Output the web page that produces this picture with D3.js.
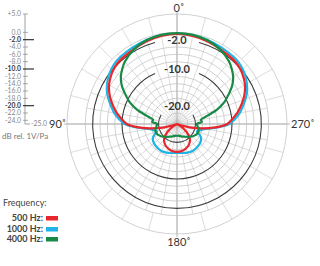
<!DOCTYPE html>
<html><head><meta charset="utf-8">
<script src="https://cdn.jsdelivr.net/npm/d3@7"></script>
<style>html,body{margin:0;padding:0;background:#fff;}svg{display:block;}</style>
</head><body>
<svg id="c" width="320" height="266"></svg>
<script>
// Angles (deg, counter-clockwise from 0° at top; pattern symmetric about 0°-180° axis)
const angles = [0,10,20,30,40,45,50,55,60,65,70,75,80,85,90,95,100,105,110,115,120,130,140,150,160,170,180];
const red500 = [-0.45,-0.6,-0.95,-1.4,-1.65,-1.85,-2.25,-2.85,-3.6,-4.6,-5.8,-7.1,-8.4,-9.9,-11.3,-14.5,-18,-21.5,-25,-25,-24,-21.5,-19.5,-18.5,-17.9,-17.5,-17.4];
const blue1000 = [-0.35,-0.4,-0.6,-0.85,-1.05,-1.25,-1.65,-2.2,-3.0,-3.9,-5.1,-6.4,-7.6,-9.1,-10.7,-14,-17.2,-18.4,-19.2,-18.3,-17.4,-16.8,-16.6,-16.5,-16.7,-17,-17.1];
const green4000 = [-0.2,-0.3,-0.7,-1.5,-2.85,-3.85,-5.0,-6.6,-8.7,-10.7,-13.3,-16.5,-18.4,-18.2,-19.6,-19.4,-19.2,-18.9,-18.8,-18.9,-19.1,-19.7,-20.4,-21,-21.4,-21.7,-21.8];
const seriesNames = ["500 Hz:", "1000 Hz:", "4000 Hz:"];
const seriesColors = ["#e8262c", "#1fb4e6", "#178a45"];
const scaleTicks = [5,0,-2,-4,-6,-8,-10,-12,-14,-16,-18,-20,-22,-24];
const majorRings = [-2,-10,-20];
const minorRings = [5,0,-4,-6,-8,-12,-14,-16,-18,-22,-24];

const svg = d3.select("#c");
const cx = 177, cy = 124, R = 110;
const r = d3.scaleLinear().domain([-25,5]).range([0,R]).clamp(true);
const font = "Lato, 'Open Sans', sans-serif";

const g = svg.append("g").attr("transform",`translate(${cx},${cy})`);
// spokes
const inner = d3.range(0,360,10), outer = d3.range(0,360,15);
g.selectAll("line.in").data(inner).join("line")
  .attr("x1",0).attr("y1",0)
  .attr("x2",d=>r(0)*Math.sin(d*Math.PI/180)).attr("y2",d=>-r(0)*Math.cos(d*Math.PI/180))
  .attr("stroke","#c4c4c4").attr("stroke-width",0.6);
g.selectAll("line.out").data(outer).join("line")
  .attr("x1",d=>r(0)*Math.sin(d*Math.PI/180)).attr("y1",d=>-r(0)*Math.cos(d*Math.PI/180))
  .attr("x2",d=>R*Math.sin(d*Math.PI/180)).attr("y2",d=>-R*Math.cos(d*Math.PI/180))
  .attr("stroke","#c4c4c4").attr("stroke-width",0.6);
// axes
g.append("line").attr("x1",-R-3).attr("x2",R+3).attr("y1",0).attr("y2",0).attr("stroke","#999").attr("stroke-width",0.7);
g.append("line").attr("y1",-R-3).attr("y2",R+3).attr("x1",0).attr("x2",0).attr("stroke","#999").attr("stroke-width",0.7);
// minor rings
g.selectAll("circle.minor").data(minorRings).join("circle")
  .attr("r",d=>r(d)).attr("fill","none").attr("stroke","#bdbdbd").attr("stroke-width",0.7);
// major rings with gap at top for labels
const gapPx = {"-2":22, "-10":22, "-20":16};
g.selectAll("path.major").data(majorRings).join("path")
  .attr("d",d=>{const rr=r(d); const ga=Math.asin(Math.min(1,gapPx[d]/rr));
     return d3.arc()({innerRadius:rr,outerRadius:rr,startAngle:ga,endAngle:2*Math.PI-ga});})
  .attr("fill","none").attr("stroke","#3c3c3c").attr("stroke-width",1.1);
g.selectAll("text.major").data(majorRings).join("text")
  .attr("x",0).attr("y",d=>-r(d)+4).attr("text-anchor","middle")
  .attr("font-family",font).attr("font-weight","bold").attr("font-size",11).attr("fill","#333")
  .text(d=>d.toFixed(1));

// curves
const allSeries = [blue1000, red500, green4000];
const colorsOrder = [seriesColors[1], seriesColors[0], seriesColors[2]];
function fullPts(vals){
  const pts = angles.map((a,i)=>[a,vals[i]]);
  const mirror = angles.slice(1,-1).reverse().map((a,i)=>[360-a, vals[angles.length-2-i]]);
  return pts.concat(mirror);
}
const line = d3.lineRadial().angle(d=>-d[0]*Math.PI/180).radius(d=>r(d[1])).curve(d3.curveCatmullRomClosed.alpha(0.5));
allSeries.forEach((s,i)=>{
  g.append("path").attr("d",line(fullPts(s))).attr("fill","none")
   .attr("stroke",colorsOrder[i]).attr("stroke-width",2.2);
});

// angle labels
svg.append("text").attr("x",cx+2).attr("y",12).attr("text-anchor","middle").attr("font-family",font).attr("font-size",11).attr("fill","#333").text("0˚");
svg.append("text").attr("x",cx+2).attr("y",246).attr("text-anchor","middle").attr("font-family",font).attr("font-size",11).attr("fill","#333").text("180˚");
svg.append("text").attr("x",49).attr("y",cy+4).attr("font-family",font).attr("font-size",11).attr("fill","#333").text("90˚");
svg.append("text").attr("x",291).attr("y",cy+4).attr("font-family",font).attr("font-size",11).attr("fill","#333").text("270˚");

// left dB scale
const ys = d3.scaleLinear().domain([-25,5]).range([cy,cy-R]);
const ax = svg.append("g").attr("transform","translate(25,0)");
ax.append("line").attr("x1",0).attr("x2",0).attr("y1",ys(5)).attr("y2",ys(-25)).attr("stroke","#888").attr("stroke-width",0.8);
ax.append("line").attr("x1",0).attr("x2",5).attr("y1",ys(-25)).attr("y2",ys(-25)).attr("stroke","#888").attr("stroke-width",0.8);
ax.selectAll("line.t").data(scaleTicks).join("line")
  .attr("x1",-2).attr("x2",d=>majorRings.includes(d)?9:3)
  .attr("y1",d=>ys(d)).attr("y2",d=>ys(d))
  .attr("stroke",d=>majorRings.includes(d)?"#333":"#888").attr("stroke-width",d=>majorRings.includes(d)?1.2:0.7);
ax.selectAll("text.t").data(scaleTicks).join("text")
  .attr("x",-4).attr("y",d=>ys(d)+2.3).attr("text-anchor","end")
  .attr("font-family",font).attr("font-size",6.8)
  .attr("font-weight",d=>majorRings.includes(d)?"bold":"normal")
  .attr("fill",d=>majorRings.includes(d)?"#333":"#888")
  .text(d=>d>0?"+"+d.toFixed(1):d.toFixed(1));
ax.append("text").attr("x",6).attr("y",ys(-25)+2.3).attr("font-family",font).attr("font-size",6.8).attr("fill","#888").text("-25.0");
svg.append("text").attr("x",2).attr("y",139).attr("font-family",font).attr("font-size",8).attr("fill","#777").text("dB rel. 1V/Pa");

// legend
svg.append("text").attr("x",3).attr("y",206).attr("font-family",font).attr("font-size",9).attr("fill","#444").text("Frequency:");
const ly = [221,232,242];
seriesNames.forEach((n,i)=>{
  svg.append("text").attr("x",43).attr("y",ly[i]).attr("text-anchor","end").attr("font-family",font).attr("font-weight","bold").attr("font-size",9).attr("fill","#444").text(n);
  svg.append("rect").attr("x",46).attr("y",ly[i]-5).attr("width",12).attr("height",4.5).attr("fill",seriesColors[i]);
});
</script>
</body></html>
